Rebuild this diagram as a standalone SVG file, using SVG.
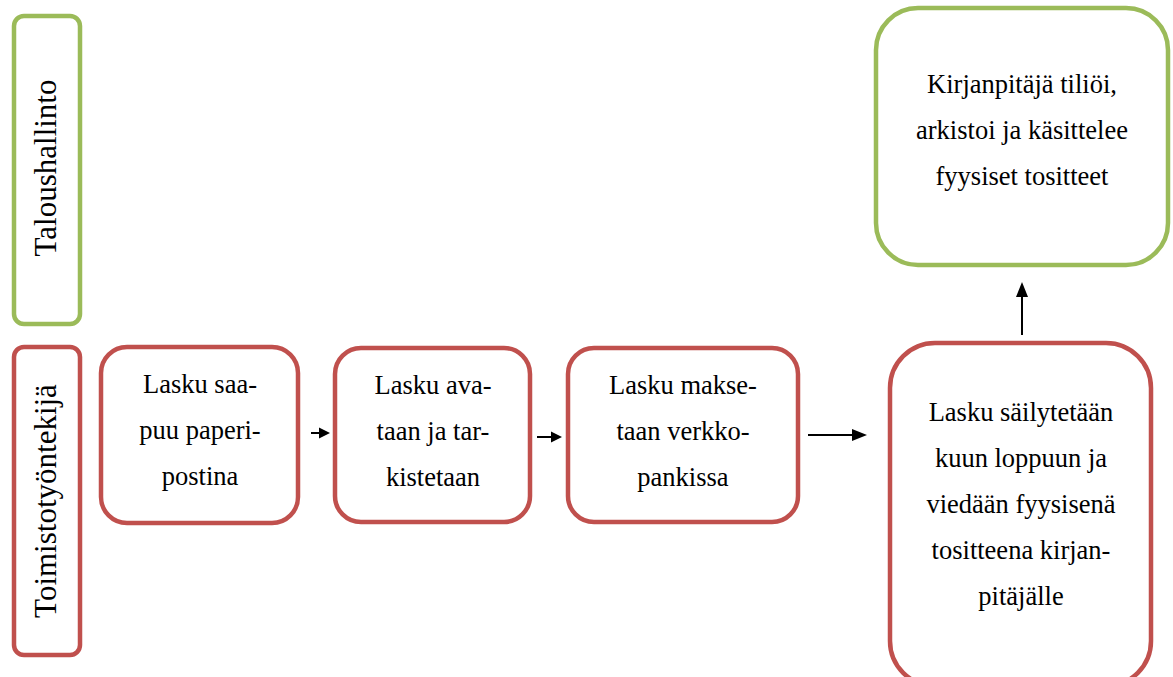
<svg xmlns="http://www.w3.org/2000/svg" width="1173" height="677" viewBox="0 0 1173 677">
<style>
.red{fill:#fff;stroke:#C0504D;stroke-width:4.5}
.green{fill:#fff;stroke:#9BBB59;stroke-width:4.5}
text{font-family:"Liberation Serif",Times,"Times New Roman",serif;fill:#000;text-anchor:middle}
.t{font-size:26.5px}
.v{font-size:31px}
.ln{stroke:#000;stroke-width:2;fill:none}
</style>
<rect width="1173" height="677" fill="#fff"/>
<g id="lane-talous">
<rect class="green" x="14" y="16" width="66" height="308" rx="10"/>
<text class="v" transform="translate(56,168) rotate(-90)">Taloushallinto</text>
</g>
<g id="lane-toimisto">
<rect class="red" x="14" y="347" width="66" height="308" rx="10"/>
<text class="v" transform="translate(56,501) rotate(-90)">Toimistotyöntekijä</text>
</g>
<g id="n1">
<rect class="red" x="101" y="347" width="197" height="176" rx="26"/>
<text class="t" x="200" y="393">Lasku saa-</text>
<text class="t" x="200" y="439">puu paperi-</text>
<text class="t" x="200" y="485">postina</text>
</g>
<g id="n2">
<rect class="red" x="335" y="348" width="195" height="174" rx="26"/>
<text class="t" x="433" y="394">Lasku ava-</text>
<text class="t" x="433" y="440">taan ja tar-</text>
<text class="t" x="433" y="486">kistetaan</text>
</g>
<g id="n3">
<rect class="red" x="568" y="348" width="230" height="174" rx="26"/>
<text class="t" x="683" y="394">Lasku makse-</text>
<text class="t" x="683" y="440">taan verkko-</text>
<text class="t" x="683" y="486">pankissa</text>
</g>
<g id="n4">
<rect class="red" x="890" y="343" width="261" height="343" rx="45"/>
<text class="t" x="1021" y="421">Lasku säilytetään</text>
<text class="t" x="1021" y="467">kuun loppuun ja</text>
<text class="t" x="1021" y="513">viedään fyysisenä</text>
<text class="t" x="1021" y="559">tositteena kirjan-</text>
<text class="t" x="1021" y="605">pitäjälle</text>
</g>
<g id="n5">
<rect class="green" x="876" y="8" width="292" height="257" rx="42"/>
<text class="t" x="1022" y="93">Kirjanpitäjä tiliöi,</text>
<text class="t" x="1022" y="139">arkistoi ja käsittelee</text>
<text class="t" x="1022" y="185">fyysiset tositteet</text>
</g>
<g id="connectors">
<line class="ln" x1="311" y1="433" x2="322" y2="433"/>
<polygon points="330,433 319,427.5 319,438.5"/>
<line class="ln" x1="537" y1="437" x2="554" y2="437"/>
<polygon points="562,437 551,431.5 551,442.5"/>
<line class="ln" x1="808" y1="435" x2="856" y2="435"/>
<polygon points="867,435 852,429 852,441"/>
<line class="ln" x1="1022" y1="335" x2="1022" y2="295"/>
<polygon points="1022,282 1016,297 1028,297"/>
</g>
</svg>
